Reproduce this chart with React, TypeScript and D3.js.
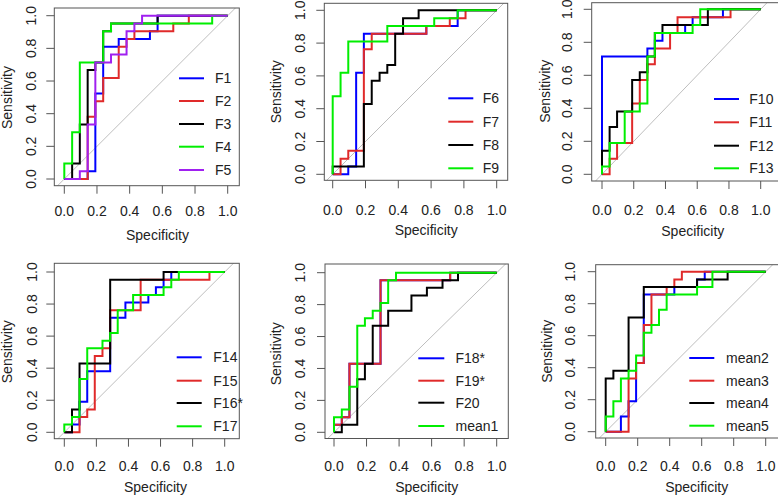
import React from 'react';
import * as d3 from 'd3';

type Pt = [number, number];

// ROC points: [axis value (1 - specificity), sensitivity]
const F1: Pt[] = [[0,0],[.143,.048],[.19,.524],[.238,.81],[.333,.857],[.524,.905],[.571,.952],[.571,1],[1,1]];
const F2: Pt[] = [[0,0],[.143,.381],[.19,.476],[.238,.619],[.333,.81],[.381,.857],[.429,.905],[.667,.952],[.762,1],[1,1]];
const F3: Pt[] = [[0,0],[.048,.095],[.095,.333],[.143,.667],[.19,.714],[.238,.905],[.286,.952],[.571,1],[1,1]];
const F4: Pt[] = [[0,0],[0,.095],[.048,.286],[.095,.714],[.238,.905],[.286,.952],[.905,1],[1,1]];
const F5: Pt[] = [[0,0],[.095,.048],[.143,.333],[.19,.714],[.286,.762],[.381,.905],[.429,.952],[.476,1],[1,1]];

const F6: Pt[] = [[0,0],[.095,.048],[.143,.619],[.19,.857],[.571,.905],[.762,1],[1,1]];
const F7: Pt[] = [[0,0],[.048,.095],[.095,.143],[.19,.762],[.238,.857],[.571,.905],[.714,.952],[.81,1],[1,1]];
const F8: Pt[] = [[0,0],[0,.048],[.19,.429],[.238,.571],[.286,.619],[.333,.667],[.381,.857],[.429,.952],[.524,1],[1,1]];
const F9: Pt[] = [[0,0],[0,.476],[.048,.619],[.095,.81],[.333,.905],[.619,.952],[.762,1],[1,1]];

const F10: Pt[] = [[0,0],[0,.714],[.286,.762],[.333,.81],[.381,.857],[.524,.905],[.571,.952],[.762,1],[1,1]];
const F11: Pt[] = [[0,0],[.048,.095],[.095,.19],[.19,.429],[.238,.571],[.286,.667],[.333,.762],[.429,.857],[.476,.952],[.81,1],[1,1]];
const F12: Pt[] = [[0,0],[0,.143],[.048,.286],[.095,.381],[.19,.571],[.238,.619],[.286,.714],[.333,.857],[.381,.905],[.667,1],[1,1]];
const F13: Pt[] = [[0,0],[0,.048],[.048,.19],[.143,.381],[.238,.429],[.286,.714],[.333,.857],[.571,.905],[.619,1],[1,1]];

const F14: Pt[] = [[0,0],[.048,.048],[.095,.19],[.143,.381],[.286,.714],[.381,.81],[.524,.857],[.571,.905],[.619,.952],[.667,1],[1,1]];
const F15: Pt[] = [[0,0],[.095,.095],[.143,.143],[.19,.476],[.238,.524],[.286,.762],[.476,.952],[.905,1],[1,1]];
const F16: Pt[] = [[0,0],[.048,.143],[.095,.429],[.286,.952],[.619,1],[1,1]];
const F17: Pt[] = [[0,0],[0,.048],[.048,.095],[.095,.333],[.143,.524],[.238,.571],[.286,.619],[.333,.762],[.429,.857],[.619,.905],[.667,.952],[.714,1],[1,1]];

const F18: Pt[] = [[0,0],[0,.048],[.048,.095],[.095,.429],[.286,.952],[.714,1],[1,1]];
const F19: Pt[] = [[0,0],[0,.048],[.048,.095],[.095,.429],[.286,.952],[.714,1],[1,1]];
const F20: Pt[] = [[0,0],[.048,.048],[.143,.333],[.19,.429],[.238,.667],[.333,.762],[.476,.857],[.571,.905],[.667,.952],[.762,1],[1,1]];
const MEAN1: Pt[] = [[0,0],[0,.095],[.048,.143],[.095,.286],[.143,.667],[.19,.714],[.238,.762],[.286,.81],[.333,.952],[.381,1],[1,1]];

const MEAN2: Pt[] = [[0,0],[.095,.095],[.143,.19],[.19,.429],[.238,.857],[.429,.905],[.571,.952],[.619,1],[1,1]];
const MEAN3: Pt[] = [[0,0],[.143,.333],[.19,.429],[.238,.667],[.286,.857],[.381,.905],[.429,.952],[.476,1],[1,1]];
const MEAN4: Pt[] = [[0,0],[0,.333],[.048,.381],[.143,.714],[.238,.905],[.571,.952],[.762,1],[1,1]];
const MEAN5: Pt[] = [[0,0],[0,.095],[.048,.19],[.095,.333],[.143,.381],[.19,.476],[.238,.619],[.286,.667],[.333,.762],[.381,.857],[.571,.905],[.667,1],[1,1]];

const TICKS = [0, 0.2, 0.4, 0.6, 0.8, 1.0];
const TICK_LABELS = ['0.0', '0.2', '0.4', '0.6', '0.8', '1.0'];
const X_TITLE = 'Specificity';
const Y_TITLE = 'Sensitivity';

const BLUE = '#0000FF';
const RED = '#E02A2A';
const BLACK = '#000000';
const GREEN = '#00EE00';
const PURPLE = '#A020F0';

const panels = [
  { names: ['F1', 'F2', 'F3', 'F4', 'F5'], data: [F1, F2, F3, F4, F5], colors: [BLUE, RED, BLACK, GREEN, PURPLE],
    L: { x0: 64.3, x1: 227.7, y0: 179, y1: 15.7, bl: 54.3, br: 239.3, bt: 8, bb: 185.7, ytx: 31, sx: 7, sy: 97.5, xty: 210.7, spx: 157.5, spy: 235, lg0: 179, lg1: 204, lt: 215, rows: [78.3, 101, 124, 146.7, 170] } },
  { names: ['F6', 'F7', 'F8', 'F9'], data: [F6, F7, F8, F9], colors: [BLUE, RED, BLACK, GREEN],
    L: { x0: 332.7, x1: 496.7, y0: 174.3, y1: 10.3, bl: 324.3, br: 507.7, bt: 3.3, bb: 180.3, ytx: 300, sx: 275.7, sy: 91.7, xty: 210, spx: 426.2, spy: 230, lg0: 448.3, lg1: 473.3, lt: 482.7, rows: [98.3, 121.7, 145, 168.3] } },
  { names: ['F10', 'F11', 'F12', 'F13'], data: [F10, F11, F12, F13], colors: [BLUE, RED, BLACK, GREEN],
    L: { x0: 602, x1: 760.7, y0: 174.3, y1: 9.3, bl: 591.7, br: 790, bt: 2.7, bb: 181, ytx: 566.7, sx: 545, sy: 91.3, xty: 210, spx: 692.8, spy: 231, lg0: 714, lg1: 739, lt: 749.3, rows: [99, 122.3, 145.7, 168.3] } },
  { names: ['F14', 'F15', 'F16*', 'F17'], data: [F14, F15, F16, F17], colors: [BLUE, RED, BLACK, GREEN],
    L: { x0: 64.3, x1: 224.7, y0: 432.3, y1: 272, bl: 54.3, br: 239.3, bt: 263.3, bb: 438.7, ytx: 31.7, sx: 7.3, sy: 351.7, xty: 466.3, spx: 155.5, spy: 487.3, lg0: 176.7, lg1: 201.7, lt: 213.3, rows: [357.3, 380.7, 403, 426.3] } },
  { names: ['F18*', 'F19*', 'F20', 'mean1'], data: [F18, F19, F20, MEAN1], colors: [BLUE, RED, BLACK, GREEN],
    L: { x0: 334, x1: 496.7, y0: 432.3, y1: 272.7, bl: 325, br: 508.3, bt: 264, bb: 438.5, ytx: 300, sx: 275.7, sy: 353.8, xty: 466.3, spx: 426.7, spy: 487.3, lg0: 418.3, lg1: 444.3, lt: 455.5, rows: [358.3, 380.7, 402.7, 426] } },
  { names: ['mean2', 'mean3', 'mean4', 'mean5'], data: [MEAN2, MEAN3, MEAN4, MEAN5], colors: [BLUE, RED, BLACK, GREEN],
    L: { x0: 605.7, x1: 765.7, y0: 431.7, y1: 271.7, bl: 595.7, br: 790, bt: 264.7, bb: 438, ytx: 570, sx: 547.3, sy: 351.3, xty: 466.3, spx: 696.7, spy: 487.3, lg0: 689.3, lg1: 714.3, lt: 726, rows: [358, 380.7, 403, 425.7] } },
];

const FONT = "'Liberation Sans', Arial, Helvetica, sans-serif";
const FS = 14;
const AX = '#555555';
const TXT = '#222222';

function Panel({ p, idx }: { p: typeof panels[number]; idx: number }) {
  const L = p.L;
  const xs = d3.scaleLinear().domain([0, 1]).range([L.x0, L.x1]);
  const ys = d3.scaleLinear().domain([0, 1]).range([L.y0, L.y1]);
  const line = d3.line<Pt>().x(d => xs(d[0])).y(d => ys(d[1])).curve(d3.curveStepAfter);
  const clipId = `clip${idx}`;
  const off = FS * 0.36;
  return (
    <g>
      <defs>
        <clipPath id={clipId}>
          <rect x={L.bl} y={L.bt} width={L.br - L.bl} height={L.bb - L.bt} />
        </clipPath>
      </defs>
      <g clipPath={`url(#${clipId})`}>
        <line x1={xs(-0.2)} y1={ys(-0.2)} x2={xs(1.2)} y2={ys(1.2)} stroke="#BEBEBE" strokeWidth={1} />
        {p.data.map((d, i) => (
          <path key={i} d={line(d) || ''} fill="none" stroke={p.colors[i]} strokeWidth={2} strokeLinejoin="miter" strokeLinecap="butt" />
        ))}
      </g>
      <rect x={L.bl} y={L.bt} width={L.br - L.bl} height={L.bb - L.bt} fill="none" stroke={AX} strokeWidth={1} />
      {TICKS.map((t, i) => (
        <g key={'x' + i}>
          <line x1={xs(t)} x2={xs(t)} y1={L.bb} y2={L.bb + 8} stroke={AX} strokeWidth={1} />
          <text x={xs(t)} y={L.xty + off} textAnchor="middle" fontSize={FS} fontFamily={FONT} fill={TXT}>{TICK_LABELS[i]}</text>
        </g>
      ))}
      {TICKS.map((t, i) => (
        <g key={'y' + i}>
          <line x1={L.bl - 8} x2={L.bl} y1={ys(t)} y2={ys(t)} stroke={AX} strokeWidth={1} />
          <text transform={`translate(${L.ytx + off},${ys(t)}) rotate(-90)`} textAnchor="middle" fontSize={FS} fontFamily={FONT} fill={TXT}>{TICK_LABELS[i]}</text>
        </g>
      ))}
      <text x={L.spx} y={L.spy + off} textAnchor="middle" fontSize={FS} fontFamily={FONT} fill={TXT}>{X_TITLE}</text>
      <text transform={`translate(${L.sx + off},${L.sy}) rotate(-90)`} textAnchor="middle" fontSize={FS} fontFamily={FONT} fill={TXT}>{Y_TITLE}</text>
      {p.names.map((n, i) => (
        <g key={'lg' + i}>
          <line x1={L.lg0} x2={L.lg1} y1={L.rows[i]} y2={L.rows[i]} stroke={p.colors[i]} strokeWidth={2} />
          <text x={L.lt} y={L.rows[i] + off} fontSize={FS} fontFamily={FONT} fill={TXT}>{n}</text>
        </g>
      ))}
    </g>
  );
}

export default function App() {
  return (
    <svg width={778} height={496} style={{ position: 'absolute', left: 0, top: 0, background: '#fff' }}>
      <rect x={0} y={0} width={778} height={496} fill="#fff" />
      {panels.map((p, i) => <Panel key={i} p={p} idx={i} />)}
    </svg>
  );
}
